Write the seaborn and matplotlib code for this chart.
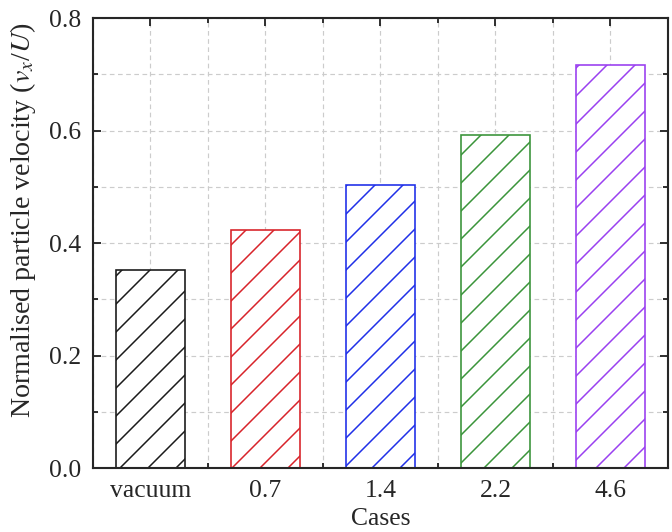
import seaborn as sns
import matplotlib.pyplot as plt
from matplotlib.ticker import MultipleLocator
import pandas as pd

# data
cases = ["vacuum", "0.7", "1.4", "2.2", "4.6"]
velocity = [0.353, 0.424, 0.504, 0.592, 0.716]
colors = ["#1a1a1a", "#d8232a", "#2030e8", "#3a943a", "#9a40f0"]

df = pd.DataFrame({"Case": cases, "Velocity": velocity})

sns.set_style("ticks")
plt.rcParams["font.family"] = ["Liberation Serif", "DejaVu Serif"]
plt.rcParams["mathtext.fontset"] = "stix"
plt.rcParams["hatch.linewidth"] = 0.65

# dpi 168 so the hatch spacing matches the reference
fig = plt.figure(figsize=(672 / 168, 532 / 168), dpi=168)
ax = fig.add_axes([0.138, 0.12, 0.856, 0.846])

sns.barplot(data=df, x="Case", y="Velocity", hue="Case", palette=colors,
            width=0.6, legend=False, ax=ax, zorder=3)

for patch, c in zip(ax.patches, colors):
    patch.set_facecolor("white")
    patch.set_edgecolor(c)
    patch.set_hatch("//")
    patch.set_linewidth(0.7)

ax.set_xlim(-0.5, 4.5)
ax.set_ylim(0, 0.8)
ax.yaxis.set_major_locator(MultipleLocator(0.2))
ax.yaxis.set_minor_locator(MultipleLocator(0.1))
ax.xaxis.set_minor_locator(MultipleLocator(0.5))
ax.yaxis.set_major_formatter(lambda v, p: f"{v:.1f}")

ax.grid(True, which="both", linestyle=(0, (4, 3)), color="#cccccc", linewidth=0.5, zorder=0)
ax.set_axisbelow(True)

ax.tick_params(which="both", direction="in", top=True, right=True, labelsize=11, width=0.8)
ax.tick_params(which="major", length=3.5, pad=5)
ax.tick_params(which="minor", length=2)
for s in ax.spines.values():
    s.set_linewidth(0.9)
    s.set_zorder(5)

ax.set_xlabel("Cases", fontsize=11, labelpad=2.5)
ax.set_ylabel("Normalised particle velocity ($v_x$/$U$)", fontsize=12)
ax.yaxis.set_label_coords(-0.095, 0.55)

fig.savefig("out.png", dpi=168)
